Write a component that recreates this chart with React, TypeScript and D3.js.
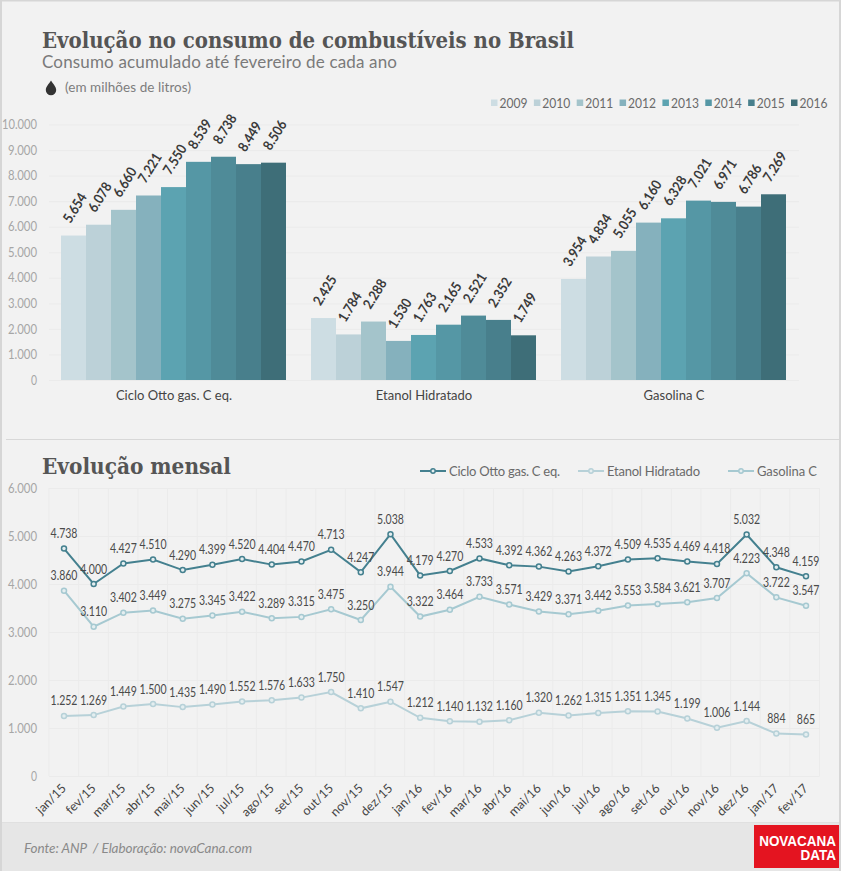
import * as d3 from "d3";
import { useEffect, useRef } from "react";

const barKeys = ["2009", "2010", "2011", "2012", "2013", "2014", "2015", "2016", "2017"];
const legendYears = ["2009", "2010", "2011", "2012", "2013", "2014", "2015", "2016"];
const fuels = ["Ciclo Otto gas. C eq.", "Etanol Hidratado", "Gasolina C"];
const cicloAnual = [5654, 6078, 6660, 7221, 7550, 8539, 8738, 8449, 8506];
const etanolAnual = [2425, 1784, 2288, 1530, 1763, 2165, 2521, 2352, 1749];
const gasolinaAnual = [3954, 4834, 5055, 6160, 6328, 7021, 6971, 6786, 7269];
const barColors = ["#cddde3", "#bcd1d8", "#a4c4cb", "#85b1bd", "#5ca3b1", "#5597a5", "#4f8b98", "#487f8c", "#3e6e78"];
const legendColors = ["#cddde3", "#bcd1d8", "#a4c4cb", "#85b1bd", "#5ca3b1", "#5597a5", "#487f8c", "#3e6e78"];
const barTicks = [0, 1000, 2000, 3000, 4000, 5000, 6000, 7000, 8000, 9000, 10000];

const months = [
  "jan/15", "fev/15", "mar/15", "abr/15", "mai/15", "jun/15", "jul/15", "ago/15", "set/15", "out/15", "nov/15", "dez/15",
  "jan/16", "fev/16", "mar/16", "abr/16", "mai/16", "jun/16", "jul/16", "ago/16", "set/16", "out/16", "nov/16", "dez/16",
  "jan/17", "fev/17",
];
const cicloMensal = [4738, 4000, 4427, 4510, 4290, 4399, 4520, 4404, 4470, 4713, 4247, 5038, 4179, 4270, 4533, 4392, 4362, 4263, 4372, 4509, 4535, 4469, 4418, 5032, 4348, 4159];
const gasolinaMensal = [3860, 3110, 3402, 3449, 3275, 3345, 3422, 3289, 3315, 3475, 3250, 3944, 3322, 3464, 3733, 3571, 3429, 3371, 3442, 3553, 3584, 3621, 3707, 4223, 3722, 3547];
const etanolMensal = [1252, 1269, 1449, 1500, 1435, 1490, 1552, 1576, 1633, 1750, 1410, 1547, 1212, 1140, 1132, 1160, 1320, 1262, 1315, 1351, 1345, 1199, 1006, 1144, 884, 865];
const lineTicks = [0, 1000, 2000, 3000, 4000, 5000, 6000];
const lineColors = ["#44808f", "#b7d1d8", "#a6c9d1"];
const legendWidths = [111, 93, 60];

const fmt = d3.formatLocale({ decimal: ",", thousands: ".", grouping: [3], currency: ["", ""] }).format(",");
const bodyFont = "Lato, 'Open Sans', sans-serif";
const titleFont = "'DejaVu Serif', serif";
const logoFont = "'Liberation Sans', sans-serif";

export default function App() {
  const ref = useRef<SVGSVGElement | null>(null);

  useEffect(() => {
    if (!ref.current) return;
    const svg = d3.select(ref.current);
    svg.selectAll("*").remove();

    const width = 841;
    const height = 871;

    // background and frame
    svg.append("rect").attr("width", width).attr("height", height).attr("fill", "#f2f2f2");
    svg.append("rect").attr("y", 823).attr("width", width).attr("height", 48).attr("fill", "#e6e6e6");
    svg.append("line").attr("x1", 0).attr("x2", width).attr("y1", 822.5).attr("y2", 822.5).attr("stroke", "#e0e0e0");
    svg.append("line").attr("x1", 0).attr("x2", width).attr("y1", 0.5).attr("y2", 0.5).attr("stroke", "#d6d6d6").attr("stroke-width", 2);
    svg.append("line").attr("x1", 0.5).attr("x2", 0.5).attr("y1", 0).attr("y2", height).attr("stroke", "#d6d6d6").attr("stroke-width", 3);
    svg.append("line").attr("x1", 840).attr("x2", 840).attr("y1", 0).attr("y2", height).attr("stroke", "#d6d6d6").attr("stroke-width", 2);
    svg.append("line").attr("x1", 6).attr("x2", 839).attr("y1", 439.5).attr("y2", 439.5).attr("stroke", "#d8d8d8");

    const text = (x: number, y: number, s: string, size: number, fill: string) =>
      svg.append("text").attr("x", x).attr("y", y).text(s)
        .attr("font-family", bodyFont).attr("font-size", size).attr("fill", fill);

    text(42, 48, "Evolução no consumo de combustíveis no Brasil", 22, "#555")
      .attr("font-family", titleFont).attr("font-weight", "bold").attr("textLength", 532).attr("lengthAdjust", "spacingAndGlyphs");
    text(42, 68, "Consumo acumulado até fevereiro de cada ano", 17, "#7a7a7a").attr("textLength", 355);
    text(65, 92, "(em milhões de litros)", 13.5, "#7d7d7d").attr("textLength", 126);
    svg.append("path")
      .attr("d", "M51 80.5 C53 84 56.2 86.5 56.2 90 A5.2 5.2 0 0 1 45.8 90 C45.8 86.5 49 84 51 80.5 Z")
      .attr("fill", "#333");

    // narrow the digits a little, Lato's are wider than the original face
    const numWidth = (s: string) => (s.length === 6 ? 35 : s.length === 5 ? 29 : s.length * 6);
    const styleTicks = (g: any) => {
      g.select(".domain").remove();
      g.selectAll(".tick line").attr("stroke", "#ebebeb");
      g.selectAll(".tick text")
        .attr("font-family", bodyFont)
        .attr("font-size", 13)
        .attr("fill", "#a6a6a6")
        .attr("lengthAdjust", "spacingAndGlyphs")
        .attr("textLength", function (this: any) { return numWidth(this.textContent); });
    };

    // bars
    const xGroup = d3.scaleBand().domain(fuels).range([49, 799]);
    const xBar = d3.scaleBand().domain(barKeys).range([12, 237]);
    const yBar = d3.scaleLinear().domain([0, 10000]).range([380, 124.5]);

    svg.append("g").attr("transform", "translate(49,0)").call(
      d3.axisLeft(yBar).tickValues(barTicks).tickSize(-750).tickPadding(12).tickFormat((d) => fmt(+d)),
    ).call(styleTicks);

    const anuais = [cicloAnual, etanolAnual, gasolinaAnual];
    const groups = svg.append("g").selectAll("g").data(fuels).join("g")
      .attr("transform", (d) => `translate(${xGroup(d)},0)`);

    groups.selectAll("rect")
      .data((_, i) => barKeys.map((y, j) => ({ y, v: anuais[i][j], c: barColors[j] })))
      .join("rect")
      .attr("x", (d) => xBar(d.y)!)
      .attr("y", (d) => yBar(d.v))
      .attr("width", xBar.bandwidth())
      .attr("height", (d) => yBar(0) - yBar(d.v))
      .attr("fill", (d) => d.c);

    groups.selectAll("text.val")
      .data((_, i) => barKeys.map((y, j) => ({ y, v: anuais[i][j] })))
      .join("text")
      .attr("class", "val")
      .attr("transform", (d) => `translate(${xBar(d.y)! + xBar.bandwidth() / 2 - 3},${yBar(d.v) - 11.5}) rotate(-58)`)
      .attr("font-family", bodyFont)
      .attr("font-size", 14)
      .attr("font-weight", "bold")
      .attr("fill", "#3a3a3a")
      .attr("textLength", 32)
      .attr("lengthAdjust", "spacingAndGlyphs")
      .text((d) => fmt(d.v));

    svg.append("g").selectAll("text").data(fuels).join("text")
      .attr("x", (d) => xGroup(d)! + 125)
      .attr("y", 400)
      .attr("text-anchor", "middle")
      .attr("font-family", bodyFont)
      .attr("font-size", 13)
      .attr("fill", "#444")
      .text((d) => d);

    // bar legend
    const xLegend = d3.scalePoint().domain(legendYears).range([491, 791]);
    const barLegend = svg.append("g").selectAll("g").data(legendYears).join("g")
      .attr("transform", (d) => `translate(${xLegend(d)},0)`);
    barLegend.append("rect").attr("y", 99.5).attr("width", 6.5).attr("height", 6.5)
      .attr("fill", (_, i) => legendColors[i]);
    barLegend.append("text").attr("x", 8.5).attr("y", 107.5)
      .attr("font-family", bodyFont).attr("font-size", 13).attr("fill", "#6a6a6a")
      .attr("textLength", 28).attr("lengthAdjust", "spacingAndGlyphs")
      .text((d) => d);

    // monthly chart
    text(42, 474, "Evolução mensal", 22, "#555")
      .attr("font-family", titleFont).attr("font-weight", "bold").attr("textLength", 189).attr("lengthAdjust", "spacingAndGlyphs");

    const xMonth = d3.scalePoint().domain(months).range([64, 806]);
    const yLine = d3.scaleLinear().domain([0, 6000]).range([776, 488]);
    const gridStep = (819.5 - 49) / months.length;

    svg.append("g").attr("transform", "translate(49,0)").call(
      d3.axisLeft(yLine).tickValues(lineTicks).tickSize(-770.5).tickPadding(12).tickFormat((d) => fmt(+d)),
    ).call(styleTicks);

    svg.append("g").selectAll("line").data([...months, "end"]).join("line")
      .attr("x1", (_, i) => 49 + i * gridStep)
      .attr("x2", (_, i) => 49 + i * gridStep)
      .attr("y1", yLine(6000))
      .attr("y2", yLine(0))
      .attr("stroke", "#ebebeb");

    const cx = (m: string) => xMonth(m)!;
    const series = [cicloMensal, etanolMensal, gasolinaMensal];
    const line = d3.line<number>().x((_, i) => cx(months[i])).y((d) => yLine(d));

    series.forEach((vals, s) => {
      const g = svg.append("g");
      g.append("path").attr("d", line(vals)).attr("fill", "none")
        .attr("stroke", lineColors[s]).attr("stroke-width", 2);
      g.selectAll("circle").data(vals).join("circle")
        .attr("cx", (_, i) => cx(months[i]))
        .attr("cy", (d) => yLine(d))
        .attr("r", 2.5)
        .attr("fill", "#e4eef0")
        .attr("stroke", lineColors[s])
        .attr("stroke-width", 1.5);
      g.selectAll("text").data(vals).join("text")
        .attr("transform", (d, i) => `translate(${cx(months[i])},${yLine(d) - 10.5}) scale(0.78,1)`)
        .attr("text-anchor", "middle")
        .attr("font-family", bodyFont)
        .attr("font-size", 13.5)
        .attr("fill", "#4a4a4a")
        .text((d) => fmt(d));
    });

    svg.append("g").selectAll("text").data(months).join("text")
      .attr("transform", (d) => `translate(${cx(d) + 3},${789}) rotate(-45)`)
      .attr("text-anchor", "end")
      .attr("font-family", bodyFont)
      .attr("font-size", 12.5)
      .attr("fill", "#444")
      .text((d) => d);

    // line legend
    const legendX = [420, 578, 728];
    const lineLegend = svg.append("g").selectAll("g").data(fuels).join("g")
      .attr("transform", (_, i) => `translate(${legendX[i]},471)`);
    lineLegend.append("line").attr("x2", 26).attr("stroke", (_, i) => lineColors[i]).attr("stroke-width", 2);
    lineLegend.append("circle").attr("cx", 13).attr("r", 2.2).attr("fill", "#e4eef0")
      .attr("stroke", (_, i) => lineColors[i]).attr("stroke-width", 1.5);
    lineLegend.append("text").attr("x", 29).attr("y", 4.5)
      .attr("font-family", bodyFont).attr("font-size", 13).attr("fill", "#6a6a6a")
      .attr("textLength", (_, i) => legendWidths[i])
      .text((d) => d);

    // footer
    text(24, 853, "Fonte: ANP  / Elaboração: novaCana.com", 13.5, "#8a8a8a")
      .attr("font-style", "italic").attr("textLength", 228).style("white-space", "pre");
    svg.append("rect").attr("x", 754).attr("y", 825).attr("width", 85).attr("height", 43).attr("fill", "#e41420");
    const logo = (y: number, s: string) =>
      text(0, 0, s, 15.5, "#fff")
        .attr("transform", `translate(836,${y}) scale(0.87,1)`)
        .attr("text-anchor", "end")
        .attr("font-weight", "bold")
        .attr("font-family", logoFont);
    logo(846, "NOVACANA");
    logo(860, "DATA");
  }, []);

  return (
    <svg
      ref={ref}
      width={841}
      height={871}
      viewBox="0 0 841 871"
      style={{ position: "absolute", left: 0, top: 0, display: "block" }}
    />
  );
}
